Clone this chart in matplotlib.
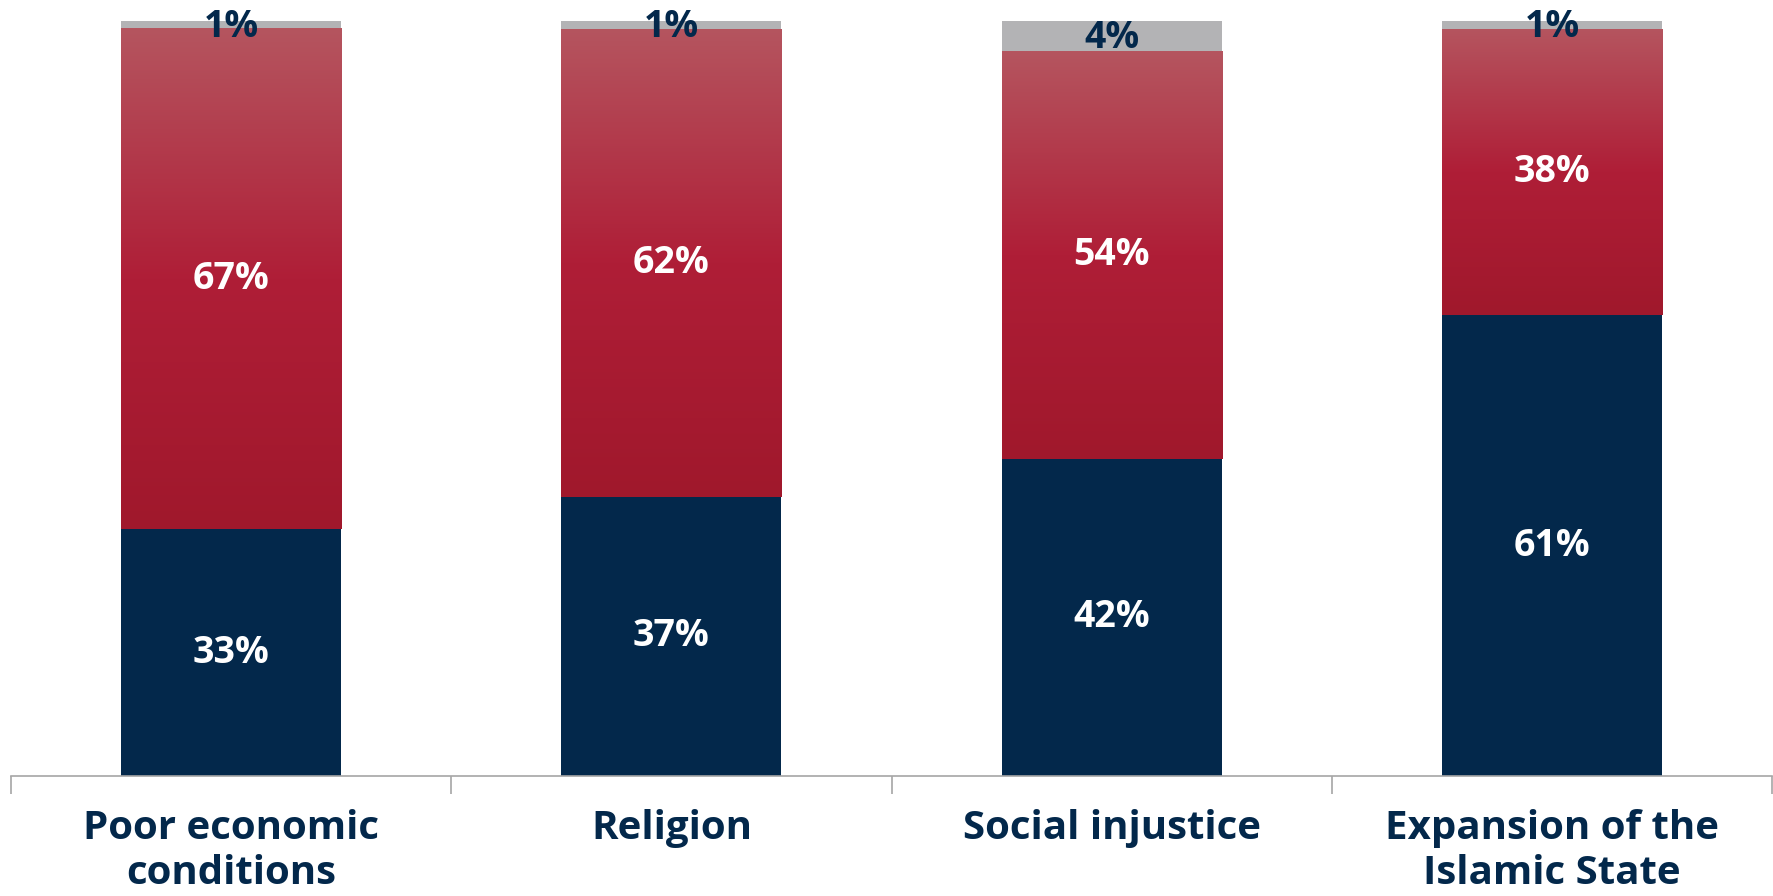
import numpy as np
import matplotlib.pyplot as plt
from matplotlib.colors import LinearSegmentedColormap

categories = ['Poor economic\nconditions', 'Religion', 'Social injustice',
              'Expansion of the\nIslamic State']
navy_vals = [33, 37, 42, 61]
red_vals = [67, 62, 54, 38]
gray_vals = [1, 1, 4, 1]

NAVY = '#03284B'
GRAY = '#B3B3B5'
red_cmap = LinearSegmentedColormap.from_list(
    'red_grad', ['#A0182C', '#AF1E37', '#B5555F'])

plt.rcParams['font.family'] = ['Open Sans', 'DejaVu Sans']

# bars are drawn as 100% stacked shares
totals = np.array(navy_vals) + np.array(red_vals) + np.array(gray_vals)
navy_h = np.array(navy_vals) / totals * 100
red_h = np.array(red_vals) / totals * 100
gray_h = np.array(gray_vals) / totals * 100

fig = plt.figure(figsize=(17.74, 8.96), dpi=100)
ax = fig.add_axes([0.0062, 0.134, 0.9927, 0.8426])

x = np.arange(len(categories))
width = 0.5
bottom_red = navy_h
bottom_gray = navy_h + red_h

ax.bar(x, navy_h, width, color=NAVY, zorder=2)
red_bars = ax.bar(x, red_h, width, bottom=bottom_red, color='none', zorder=2)
ax.bar(x, gray_h, width, bottom=bottom_gray, color=GRAY, zorder=2)

# gradient fill for the middle segment
grad = np.linspace(0, 1, 256).reshape(-1, 1)
for bar in red_bars:
    x0, y0 = bar.get_x(), bar.get_y()
    im = ax.imshow(grad, cmap=red_cmap, origin='lower', aspect='auto',
                   extent=[x0, x0 + bar.get_width(), y0, y0 + bar.get_height()],
                   zorder=2)
    im.set_clip_path(bar)

label_kw = dict(ha='center', va='center', fontsize=27, fontweight='bold')
for i in range(len(categories)):
    ax.text(x[i], navy_h[i] / 2, f'{navy_vals[i]}%', color='white', **label_kw)
    ax.text(x[i], bottom_red[i] + red_h[i] / 2, f'{red_vals[i]}%',
            color='white', **label_kw)
    ax.text(x[i], bottom_gray[i] + gray_h[i] / 2 - 0.3, f'{gray_vals[i]}%',
            color=NAVY, **label_kw)

ax.set_xlim(-0.5, len(categories) - 0.5)
ax.set_ylim(0, 100)
for s in ['top', 'right', 'left']:
    ax.spines[s].set_visible(False)
ax.spines['bottom'].set_color('#A6A6A6')
ax.spines['bottom'].set_linewidth(1.2)
ax.set_yticks([])
ax.set_xticks(np.arange(len(categories) + 1) - 0.5, minor=False)
ax.set_xticklabels([])
ax.tick_params(axis='x', length=13, color='#A6A6A6', width=1.2)
ax.set_xticks(x, minor=True)
ax.set_xticklabels(categories, minor=True, fontsize=29, fontweight='bold',
                   color=NAVY, linespacing=1.2)
ax.tick_params(axis='x', which='minor', length=0, pad=24)

fig.savefig('out.png', dpi=100)
